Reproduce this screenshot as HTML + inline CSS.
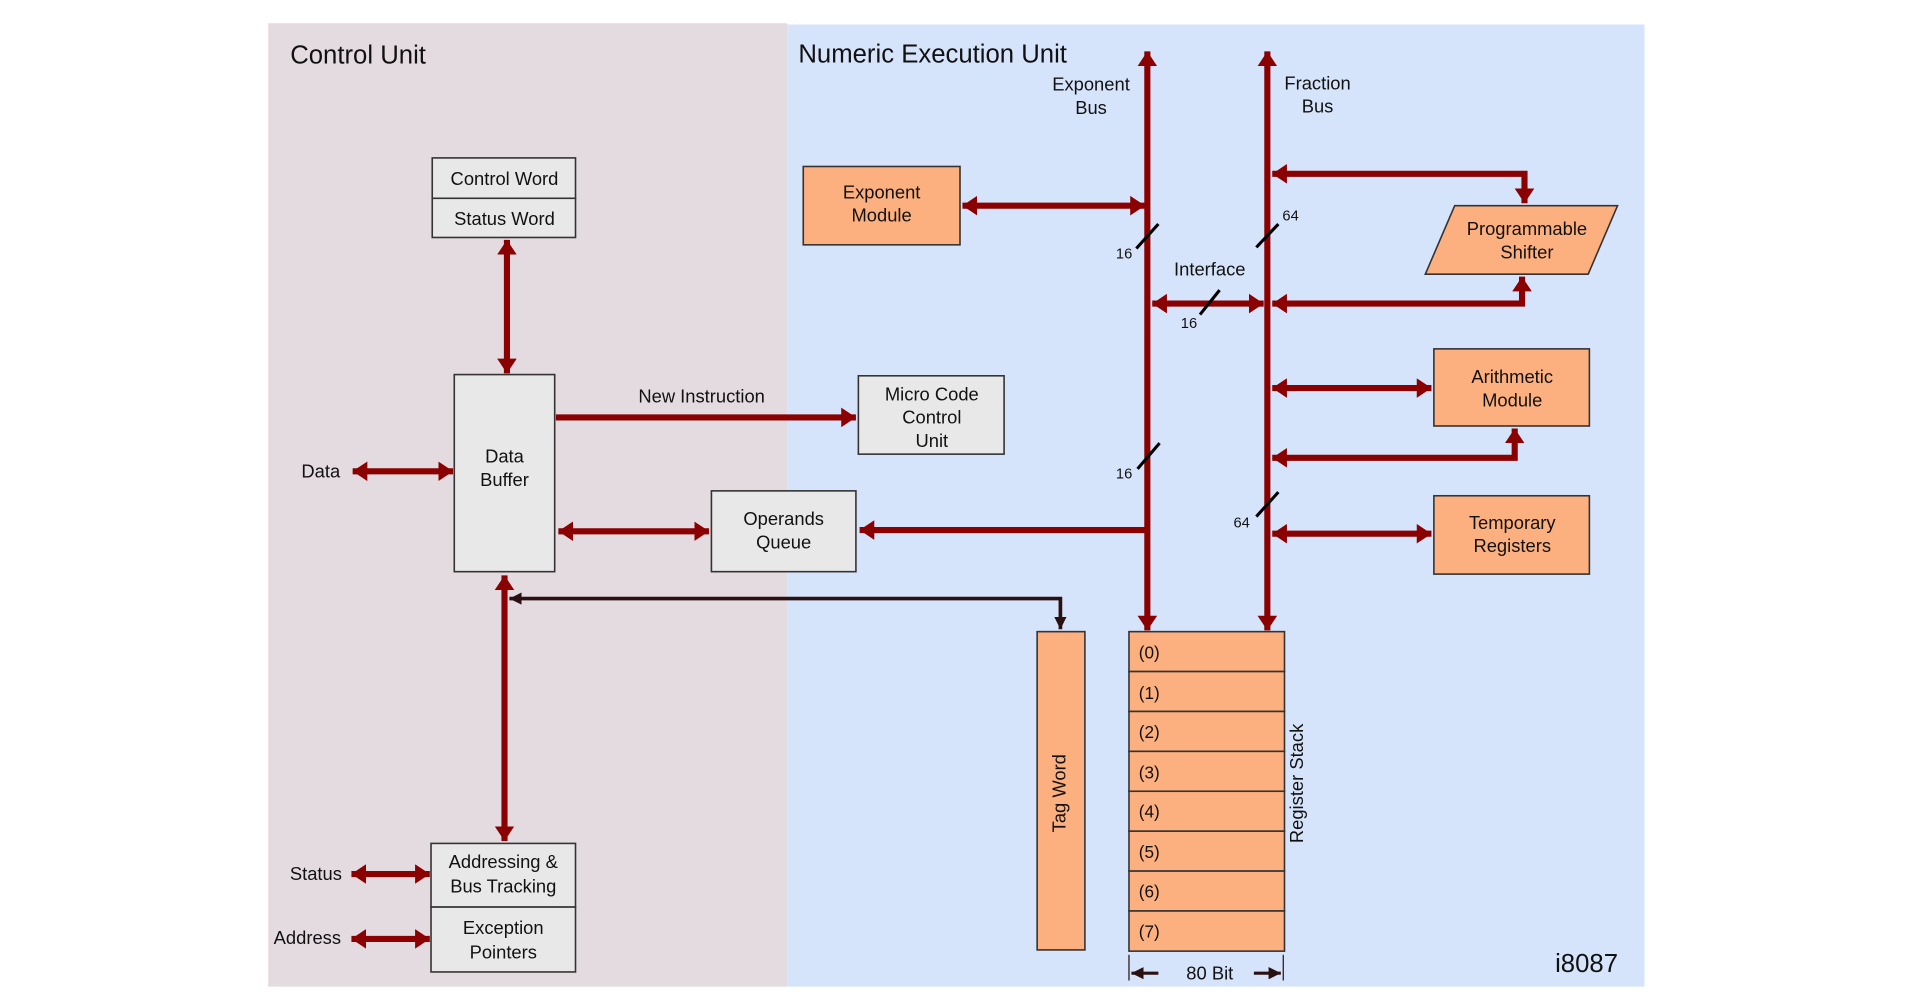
<!DOCTYPE html>
<html><head><meta charset="utf-8"><style>
html,body{margin:0;padding:0;background:#fff;width:1920px;height:1005px;overflow:hidden}
svg{display:block}
text{font-family:"Liberation Sans",sans-serif;fill:#111}
</style></head><body>
<svg width="1920" height="1005" viewBox="0 0 1568 821" preserveAspectRatio="none" xmlns="http://www.w3.org/2000/svg">
<defs>
<marker id="a" markerUnits="userSpaceOnUse" markerWidth="14" markerHeight="16" refX="12" refY="8" orient="auto-start-reverse"><path d="M0,0 L12,8 L0,16 Z" fill="#8b0000"/></marker>
<marker id="b" markerUnits="userSpaceOnUse" markerWidth="12" markerHeight="12" refX="10" refY="6" orient="auto-start-reverse"><path d="M0,1 L10,6 L0,11 Z" fill="#2a1010"/></marker>
</defs>
<rect x="219" y="19" width="424" height="787" fill="#e3dbe0"/>
<rect x="643" y="20" width="700" height="786" fill="#d6e4fb"/>
<text x="237" y="52" font-size="21">Control Unit</text>
<text x="652" y="51" font-size="21">Numeric Execution Unit</text>
<g font-size="15" text-anchor="middle">
<text x="891" y="74">Exponent</text><text x="891" y="93">Bus</text>
<text x="1076" y="73">Fraction</text><text x="1076" y="92">Bus</text>
<text x="988" y="225">Interface</text>
<text x="573" y="329">New Instruction</text>
<text x="262" y="390">Data</text>
<text x="258" y="719">Status</text>
<text x="251" y="771">Address</text>
</g>
<g font-size="12" text-anchor="middle">
<text x="918" y="211">16</text><text x="971" y="268">16</text><text x="1054" y="180">64</text>
<text x="918" y="391">16</text><text x="1014" y="431">64</text>
</g>
<g stroke="#8b0000" stroke-width="5" fill="none">
<line x1="937" y1="515" x2="937" y2="42" marker-start="url(#a)" marker-end="url(#a)"/>
<line x1="1035" y1="515" x2="1035" y2="42" marker-start="url(#a)" marker-end="url(#a)"/>
<line x1="786" y1="168" x2="935" y2="168" marker-start="url(#a)" marker-end="url(#a)"/>
<line x1="941" y1="248" x2="1032" y2="248" marker-start="url(#a)" marker-end="url(#a)"/>
<polyline points="1039,142 1245,142 1245,166" marker-start="url(#a)" marker-end="url(#a)"/>
<polyline points="1039,248 1243,248 1243,226" marker-start="url(#a)" marker-end="url(#a)"/>
<line x1="1039" y1="317" x2="1169" y2="317" marker-start="url(#a)" marker-end="url(#a)"/>
<polyline points="1039,374 1237,374 1237,350" marker-start="url(#a)" marker-end="url(#a)"/>
<line x1="1039" y1="436" x2="1169" y2="436" marker-start="url(#a)" marker-end="url(#a)"/>
<line x1="937" y1="433" x2="702" y2="433" marker-end="url(#a)"/>
<line x1="414" y1="196" x2="414" y2="305" marker-start="url(#a)" marker-end="url(#a)"/>
<line x1="454" y1="341" x2="699" y2="341" marker-end="url(#a)"/>
<line x1="288" y1="385" x2="370" y2="385" marker-start="url(#a)" marker-end="url(#a)"/>
<line x1="456" y1="434" x2="579" y2="434" marker-start="url(#a)" marker-end="url(#a)"/>
<line x1="412" y1="470" x2="412" y2="687" marker-start="url(#a)" marker-end="url(#a)"/>
<line x1="287" y1="714" x2="351" y2="714" marker-start="url(#a)" marker-end="url(#a)"/>
<line x1="287" y1="767" x2="351" y2="767" marker-start="url(#a)" marker-end="url(#a)"/>
</g>
<polyline points="416,489 866,489 866,514" stroke="#2a1010" stroke-width="3" fill="none" marker-start="url(#b)" marker-end="url(#b)"/>
<g stroke="#000" stroke-width="2.5">
<line x1="928" y1="203" x2="946" y2="183"/><line x1="980" y1="257" x2="996" y2="237"/>
<line x1="1026" y1="202" x2="1044" y2="183"/><line x1="929" y1="383" x2="947" y2="362"/>
<line x1="1026" y1="422" x2="1044" y2="402"/>
</g>
<g stroke="#333" stroke-width="1.3">
<rect x="656" y="136" width="128" height="64" fill="#fdb07f"/>
<polygon points="1164,224 1188,168 1321,168 1297,224" fill="#fdb07f"/>
<rect x="1171" y="285" width="127" height="63" fill="#fdb07f"/>
<rect x="1171" y="405" width="127" height="64" fill="#fdb07f"/>
<rect x="353" y="129" width="117" height="33" fill="#e8e8e8"/>
<rect x="353" y="162" width="117" height="32" fill="#e8e8e8"/>
<rect x="371" y="306" width="82" height="161" fill="#e8e8e8"/>
<rect x="701" y="307" width="119" height="64" fill="#e8e8e8"/>
<rect x="581" y="401" width="118" height="66" fill="#e8e8e8"/>
<rect x="352" y="689" width="118" height="52" fill="#e8e8e8"/>
<rect x="352" y="741" width="118" height="53" fill="#e8e8e8"/>
<rect x="847" y="516" width="39" height="260" fill="#fdb07f"/>
<rect x="922" y="516" width="127" height="32.6" fill="#fdb07f"/>
<rect x="922" y="548.6" width="127" height="32.6" fill="#fdb07f"/>
<rect x="922" y="581.2" width="127" height="32.6" fill="#fdb07f"/>
<rect x="922" y="613.8" width="127" height="32.6" fill="#fdb07f"/>
<rect x="922" y="646.4" width="127" height="32.6" fill="#fdb07f"/>
<rect x="922" y="679" width="127" height="32.6" fill="#fdb07f"/>
<rect x="922" y="711.6" width="127" height="32.6" fill="#fdb07f"/>
<rect x="922" y="744.2" width="127" height="32.8" fill="#fdb07f"/>
</g>
<g font-size="15" text-anchor="middle">
<text x="720" y="162">Exponent</text><text x="720" y="181">Module</text>
<text x="1247" y="192">Programmable</text><text x="1247" y="211">Shifter</text>
<text x="1235" y="313">Arithmetic</text><text x="1235" y="332">Module</text>
<text x="1235" y="432">Temporary</text><text x="1235" y="451">Registers</text>
<text x="412" y="151">Control Word</text><text x="412" y="184">Status Word</text>
<text x="412" y="378">Data</text><text x="412" y="397">Buffer</text>
<text x="761" y="327">Micro Code</text><text x="761" y="346">Control</text><text x="761" y="365">Unit</text>
<text x="640" y="429">Operands</text><text x="640" y="448">Queue</text>
<text x="411" y="709">Addressing &amp;</text><text x="411" y="729">Bus Tracking</text>
<text x="411" y="763">Exception</text><text x="411" y="783">Pointers</text>
<text x="988" y="800">80 Bit</text>
<text transform="translate(870,648) rotate(-90)">Tag Word</text>
<text transform="translate(1064,640) rotate(-90)">Register Stack</text>
</g>
<g font-size="14">
<text x="930" y="538">(0)</text><text x="930" y="571">(1)</text><text x="930" y="603">(2)</text><text x="930" y="636">(3)</text>
<text x="930" y="668">(4)</text><text x="930" y="701">(5)</text><text x="930" y="733">(6)</text><text x="930" y="766">(7)</text>
</g>
<text x="1270" y="794" font-size="21">i8087</text>
<g stroke="#2a1010" stroke-width="2.5" fill="none">
<line x1="922" y1="780" x2="922" y2="801" stroke-width="1"/><line x1="1048" y1="780" x2="1048" y2="801" stroke-width="1"/>
<line x1="946" y1="795" x2="924" y2="795" marker-end="url(#b)"/>
<line x1="1024" y1="795" x2="1046" y2="795" marker-end="url(#b)"/>
</g>
</svg>
</body></html>
